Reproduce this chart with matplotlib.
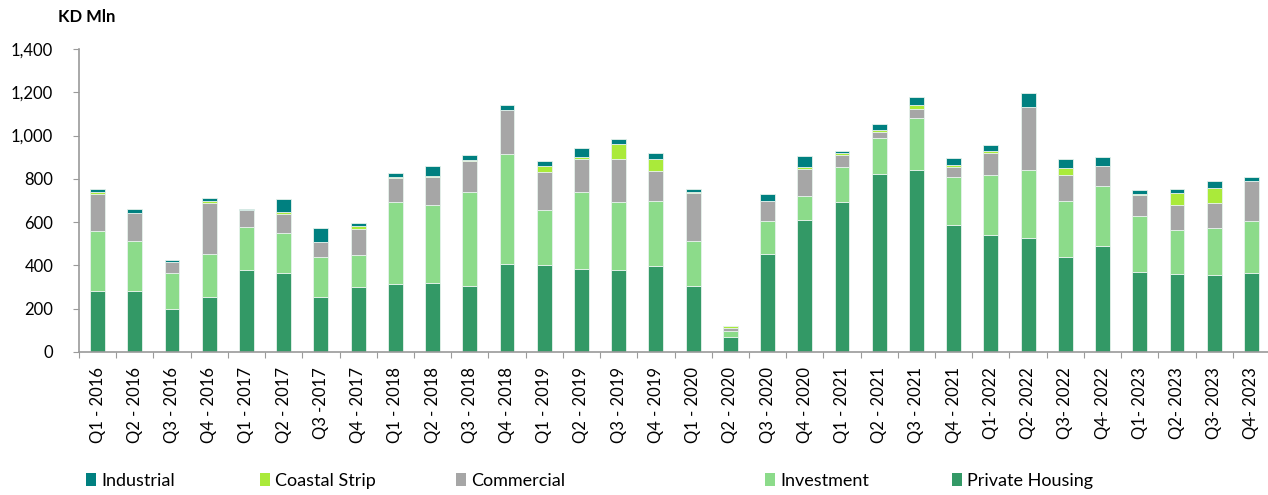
import numpy as np
import matplotlib
matplotlib.use("Agg")
import matplotlib.pyplot as plt
from matplotlib.patches import Patch

plt.rcParams['font.family'] = ['Lato', 'DejaVu Sans']

# Datos (KD Mln) por trimestre
quarters = ['Q1 - 2016', 'Q2 - 2016', 'Q3 - 2016', 'Q4 - 2016',
            'Q1 - 2017', 'Q2 - 2017', 'Q3 -2017', 'Q4 - 2017',
            'Q1 - 2018', 'Q2 - 2018', 'Q3 - 2018', 'Q4 - 2018',
            'Q1 - 2019', 'Q2 - 2019', 'Q3 - 2019', 'Q4 - 2019',
            'Q1 - 2020', 'Q2 - 2020', 'Q3 - 2020', 'Q4 - 2020',
            'Q1 - 2021', 'Q2 - 2021', 'Q3 - 2021', 'Q4 - 2021',
            'Q1- 2022', 'Q2- 2022', 'Q3- 2022', 'Q4- 2022',
            'Q1- 2023', 'Q2- 2023', 'Q3- 2023', 'Q4- 2023']

private_housing = [280, 282, 198, 253, 380, 366, 255, 302,
                   312, 319, 306, 407, 403, 384, 380, 398,
                   307, 69, 454, 608, 694, 824, 842, 588,
                   542, 529, 440, 491, 370, 361, 356, 366]
investment = [277, 233, 165, 202, 197, 186, 183, 145,
              379, 360, 433, 506, 253, 354, 314, 299,
              204, 27, 149, 111, 159, 167, 241, 221,
              276, 313, 256, 276, 258, 201, 215, 237]
commercial = [174, 125, 51, 235, 77, 85, 71, 122,
              113, 128, 142, 204, 174, 155, 196, 138,
              225, 15, 93, 128, 59, 27, 40, 47,
              103, 289, 123, 91, 97, 115, 116, 187]
coastal_strip = [7, 1, 3, 9, 0, 11, 1, 13,
                 3, 6, 5, 1, 28, 7, 73, 58,
                 3, 9, 1, 9, 8, 8, 17, 8,
                 8, 1, 33, 1, 3, 59, 72, 1]
industrial = [13, 22, 10, 12, 6, 59, 63, 12,
              18, 46, 23, 23, 26, 43, 20, 25,
              16, 1, 34, 50, 9, 29, 39, 34,
              28, 65, 40, 42, 19, 17, 29, 18]

series = [('Private Housing', private_housing, '#339966'),
          ('Investment', investment, '#8cdb8a'),
          ('Commercial', commercial, '#a6a6a6'),
          ('Coastal Strip', coastal_strip, '#aaea3a'),
          ('Industrial', industrial, '#008080')]

fig = plt.figure(figsize=(12.68, 4.95), dpi=100)
# el eje x llega justo hasta (y un poco más allá de) el borde derecho
ax = fig.add_axes([79 / 1268, 1 - 352 / 495, 1191 / 1268, 303 / 495])

x = np.arange(len(quarters))
bottom = np.zeros(len(quarters))
for nombre, valores, color in series:
    v = np.array(valores, dtype=float)
    ax.bar(x, v, width=0.4, bottom=bottom, color=color,
           edgecolor='#e6f2ec', linewidth=0.6, label=nombre)
    bottom += v

ax.set_xlim(-0.5, len(quarters) - 0.5)
ax.set_ylim(0, 1400)
ax.set_yticks(np.arange(0, 1401, 200))
ax.set_yticklabels([f'{t:,}' for t in range(0, 1401, 200)], fontsize=12)

# marcas del eje x entre barras, etiquetas centradas en cada barra
ax.set_xticks(np.arange(-0.5, len(quarters), 1.0))
ax.set_xticklabels([])
ax.set_xticks(x, minor=True)
ax.set_xticklabels(quarters, minor=True, rotation=90, fontsize=12)
ax.tick_params(axis='x', which='minor', length=0, pad=11)
ax.tick_params(axis='x', which='major', length=4.5, color='#9a9a9a', direction='out')
ax.tick_params(axis='y', length=4.5, color='#9a9a9a', direction='out', pad=14)

for s in ['top', 'right']:
    ax.spines[s].set_visible(False)
for s in ['left', 'bottom']:
    ax.spines[s].set_color('#9a9a9a')
    ax.spines[s].set_linewidth(1.2)

fig.text(58 / 1268, 1 - 17 / 495, 'KD Mln', fontsize=12, fontweight='bold',
         va='center', ha='left')

# leyenda: una entrada por posición, como en el original
pos_leyenda = {'Industrial': 86, 'Coastal Strip': 260, 'Commercial': 456,
               'Investment': 765, 'Private Housing': 952}
for nombre, valores, color in series:
    h = Patch(facecolor=color, edgecolor='none')
    fig.legend([h], [nombre], loc='center left',
               bbox_to_anchor=(pos_leyenda[nombre] / 1268, 1 - 481 / 495),
               frameon=False, fontsize=13, handlelength=0.55, handleheight=0.75,
               handletextpad=0.3, borderpad=0, borderaxespad=0)

fig.savefig('out.png', dpi=100)
